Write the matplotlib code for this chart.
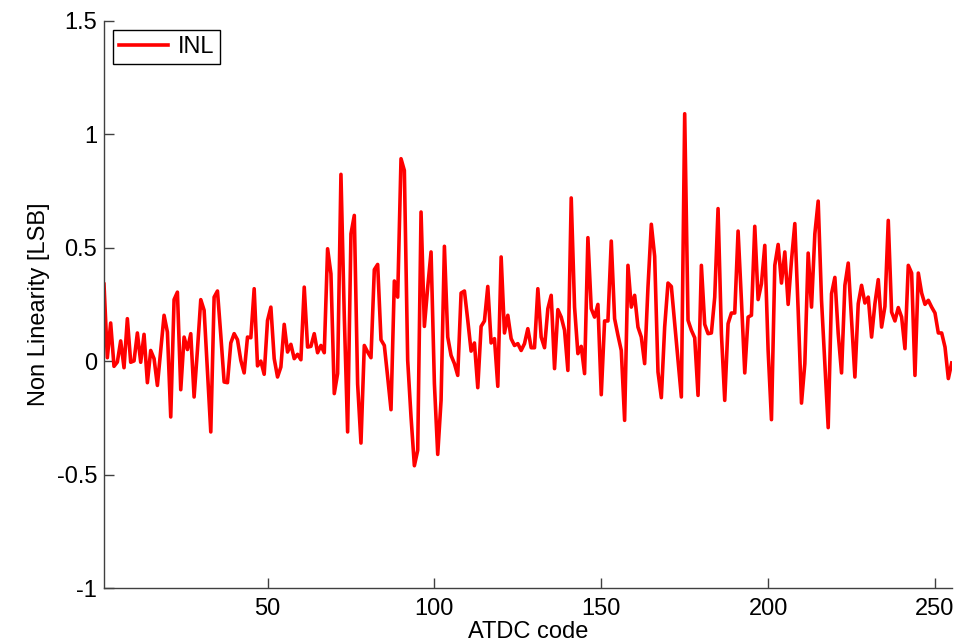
import matplotlib
matplotlib.use('Agg')
import matplotlib.pyplot as plt
import numpy as np

# INL per ATDC code
inl = [
    0.34, 0.016, 0.169, -0.022, -0.003, 0.09, -0.028, 0.188, -0.004, 0.002,
    0.125, -0.004, 0.119, -0.094, 0.048, 0.012, -0.106, 0.05, 0.203, 0.129,
    -0.245, 0.272, 0.305, -0.125, 0.107, 0.052, 0.122, -0.157, 0.05, 0.272,
    0.225, -0.04, -0.311, 0.283, 0.31, 0.115, -0.091, -0.094, 0.081, 0.122,
    0.095, 0.004, -0.051, 0.107, 0.104, 0.32, -0.02, 0.001, -0.057, 0.18,
    0.239, 0.012, -0.069, -0.025, 0.163, 0.041, 0.075, 0.012, 0.031, 0.007,
    0.327, 0.063, 0.066, 0.122, 0.038, 0.07, 0.038, 0.496, 0.386, -0.142,
    -0.054, 0.824, 0.2, -0.311, 0.562, 0.643, -0.1, -0.36, 0.07, 0.041,
    0.016, 0.404, 0.427, 0.095, 0.07, -0.069, -0.213, 0.354, 0.283, 0.893,
    0.841, 0.004, -0.245, -0.46, -0.392, 0.658, 0.154, 0.327, 0.482, -0.098,
    -0.41, -0.172, 0.507, 0.107, 0.026, -0.01, -0.062, 0.301, 0.31, 0.181,
    0.045, 0.081, -0.116, 0.154, 0.178, 0.33, 0.081, 0.1, -0.11, 0.46,
    0.125, 0.203, 0.1, 0.07, 0.078, 0.048, 0.078, 0.144, 0.06, 0.06,
    0.32, 0.107, 0.06, 0.232, 0.291, -0.032, 0.228, 0.195, 0.137, -0.04,
    0.72, 0.239, 0.034, 0.066, -0.054, 0.545, 0.232, 0.195, 0.251, -0.147,
    0.178, 0.178, 0.53, 0.188, 0.115, 0.048, -0.26, 0.423, 0.239, 0.291,
    0.151, 0.107, -0.01, 0.327, 0.604, 0.463, -0.047, -0.16, 0.151, 0.345,
    0.33, 0.166, 0.004, -0.157, 1.091, 0.181, 0.137, 0.104, -0.15, 0.423,
    0.163, 0.122, 0.125, 0.283, 0.673, 0.122, -0.172, 0.166, 0.213, 0.213,
    0.574, 0.269, -0.051, 0.195, 0.203, 0.595, 0.272, 0.342, 0.511, 0.048,
    -0.257, 0.423, 0.515, 0.345, 0.482, 0.251, 0.445, 0.607, 0.225, -0.184,
    -0.01, 0.477, 0.239, 0.562, 0.706, 0.269, -0.01, -0.292, 0.298, 0.37,
    0.122, -0.051, 0.335, 0.433, 0.181, -0.069, 0.254, 0.335, 0.257, 0.283,
    0.107, 0.254, 0.36, 0.151, 0.242, 0.621, 0.217, 0.178, 0.237, 0.195,
    0.056, 0.423, 0.389, -0.062, 0.389, 0.301, 0.251, 0.269, 0.239, 0.213,
    0.125, 0.125, 0.063, -0.076, -0.007,
]
codes = np.arange(1, len(inl) + 1)

xticks = [50, 100, 150, 200, 250]
yticks = [-1, -0.5, 0, 0.5, 1, 1.5]
ylabels = ['-1', '-0.5', '0', '0.5', '1', '1.5']

plt.rcParams['font.family'] = ['Liberation Sans', 'DejaVu Sans']
plt.rcParams['font.size'] = 17

fig = plt.figure(figsize=(9.71, 6.44), dpi=100)
ax = fig.add_axes([0.1071, 0.0865, 0.873, 0.881])

ax.plot(codes, inl, color='#ff0000', lw=2.6, label='INL')

ax.set_xlim(1, 255)
ax.set_ylim(-1, 1.5)
ax.set_xticks(xticks)
ax.set_yticks(yticks)
ax.set_yticklabels(ylabels)

axcol = '#404040'
for s in ['top', 'right']:
    ax.spines[s].set_visible(False)
for s in ['left', 'bottom']:
    ax.spines[s].set_color(axcol)
    ax.spines[s].set_linewidth(1.0)
ax.tick_params(direction='in', length=7, width=1.0, color=axcol, labelcolor='black')
ax.tick_params(axis='x', pad=7)
ax.tick_params(axis='y', pad=5)

ax.set_xlabel('ATDC code', labelpad=1)
ax.set_ylabel('Non Linearity [LSB]', labelpad=5)

leg = ax.legend(loc='upper left', bbox_to_anchor=(0.0103, 0.984), borderaxespad=0,
                fancybox=False, framealpha=1, edgecolor='black',
                handlelength=2.1, handletextpad=0.4, borderpad=0.25)
leg.get_frame().set_linewidth(1.0)

plt.savefig('out.png', dpi=100)
plt.close()
